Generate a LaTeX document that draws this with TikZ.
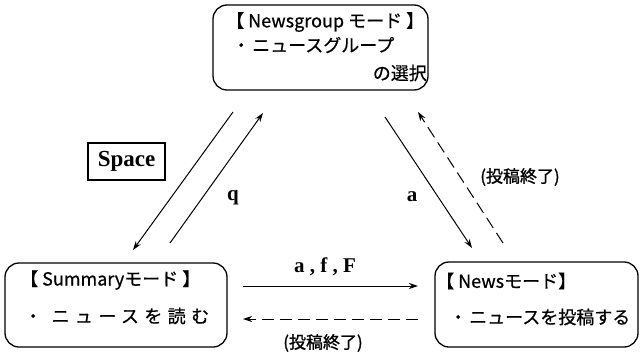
\documentclass[tikz,border=0pt]{standalone}
\usepackage{fontspec}
\setmainfont{Liberation Serif}
\newfontfamily\jp{Noto Sans CJK JP}
\usetikzlibrary{arrows.meta}
\begin{document}
\begin{tikzpicture}[x=1pt,y=-1pt,
  modebox/.style={draw, line width=1.3pt, rounded corners=14pt, inner sep=0pt},
  arr/.style={line width=1pt, -{Stealth[length=9pt,width=6pt]}},
  darr/.style={arr, dash pattern=on 12pt off 6pt},
  keylab/.style={font=\bfseries\fontsize{21}{21}\selectfont, inner sep=0pt},
  jlab/.style={font=\jp\fontsize{17}{17}\selectfont\addfontfeature{FakeBold=1.2}, inner sep=0pt},
  jtext/.style={font=\jp\fontsize{18}{18}\selectfont\addfontfeature{FakeBold=0.6}, inner sep=0pt}]
\useasboundingbox (0,0) rectangle (640,351);
% mode boxes
\node[modebox, minimum width=215pt, minimum height=85pt] (ng) at (320.5,47.5) {};
\node[modebox, minimum width=222pt, minimum height=84pt] (sm) at (116,305) {};
\node[modebox, minimum width=203pt, minimum height=85pt] (nw) at (536.5,304.5) {};
% texts
\node[jtext, anchor=west] (ngt) at (226,22) {【 Newsgroup モード 】};
\node[jtext, anchor=west] (ng1) at (232,45) {・\hspace{2pt}ニュースグループ};
\node[jtext, anchor=east] (ng2) at (427,73) {の選択};
\node[jtext, anchor=west] (smt) at (20,280) {【 Summaryモード 】};
\node[jtext, anchor=west, font=\jp\fontsize{18}{18}\selectfont\addfontfeature{FakeBold=0.6,LetterSpace=30}] (sm1) at (24,316) {・ ニュースを読む};
\node[jtext, anchor=west] (nwt) at (436,281) {【 Newsモード】};
\node[jtext, anchor=west] (nw1) at (449,317) {・\hspace{2pt}ニュースを投稿する};
% connector end points
\coordinate (s1) at (233,112); \coordinate (s2) at (133,250);
\coordinate (q1) at (170,243); \coordinate (q2) at (263,113);
\coordinate (a1) at (385,117); \coordinate (a2) at (472,248);
\coordinate (d1) at (503,243); \coordinate (d2) at (418,112);
\coordinate (h1) at (243,286); \coordinate (h2) at (418,286);
\coordinate (e1) at (418,319); \coordinate (e2) at (243,319);
\draw[arr] (s1) -- (s2);
\draw[arr] (q1) -- (q2);
\draw[arr] (a1) -- (a2);
\draw[darr] (d1) -- (d2);
\draw[arr] (h1) -- (h2);
\draw[darr] (e1) -- (e2);
% labels
\node[draw, line width=1.2pt, minimum width=77pt, minimum height=37pt, inner sep=0pt, font=\bfseries\fontsize{23}{23}\selectfont] (space) at (126.5,161.5) {Space};
\node[keylab] (ql) at (233,198) {q};
\node[keylab] (al) at (412,197) {a};
\node[keylab] (afl) at (325,267) {a , f , F};
\node[jlab] (end1) at (520,177) {(投稿終了)};
\node[jlab] (end2) at (323,343) {(投稿終了)};
\end{tikzpicture}
\end{document}
